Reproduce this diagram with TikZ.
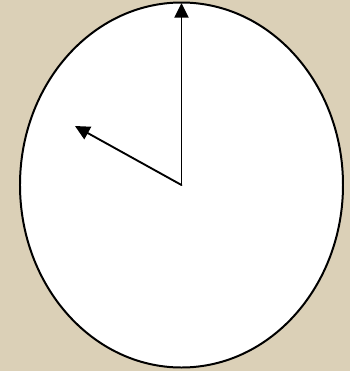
\documentclass[tikz,border=0pt]{standalone}
\usepackage{tikz}
\usepackage{xcolor}
\usetikzlibrary{arrows.meta,calc}
\definecolor{paper}{RGB}{219,208,183}

\begin{document}
\begin{tikzpicture}[scale=0.03,line cap=round,line join=round]
  \fill[paper] (0,0) rectangle (350,371);
  \useasboundingbox (0,0) rectangle (350,371);
  \coordinate (O) at (181.5,186);
  \coordinate (T) at (181.5,368);
  \coordinate (H) at (75,245);
  \draw[line width=1.7pt,fill=white] (O) ellipse [x radius=161.5, y radius=182.5];
  \draw[line width=1.6pt,-{Triangle[length=12.5pt,width=12pt]}] (O)--(T);
  \draw[line width=1.6pt,-{Triangle[length=12.5pt,width=12pt]}] (O)--(H);
\end{tikzpicture}
\end{document}
